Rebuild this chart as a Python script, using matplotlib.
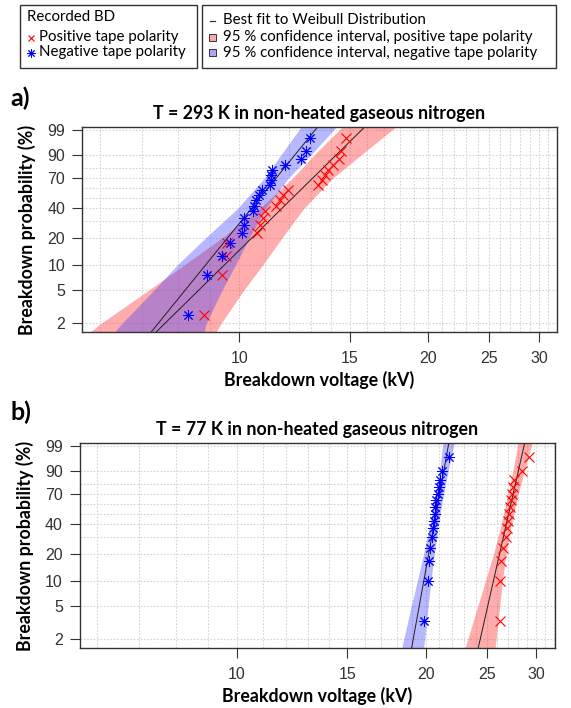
import numpy as np
import matplotlib

matplotlib.use("Agg")
import matplotlib.pyplot as plt
from matplotlib.lines import Line2D
from matplotlib.patches import Rectangle

plt.rcParams["font.family"] = ["Lato", "DejaVu Sans"]

W, H = 571, 708

# ---- data ----------------------------------------------------------------
# plotting positions (%) for n = 20 (panel a) and n = 15 (panel b)
prob_a = [2.5, 7.5, 12.5, 17.5, 22.5, 27.5, 32.5, 37.5, 42.5, 47.5,
          52.5, 57.5, 62.5, 67.5, 72.5, 77.5, 82.5, 87.5, 92.5, 97.5]
prob_b = [3.33, 10.0, 16.67, 23.33, 30.0, 36.67, 43.33, 50.0,
          56.67, 63.33, 70.0, 76.67, 83.33, 90.0, 96.67]

# breakdown voltages (kV), sorted
pos_a = [8.78, 9.39, 9.52, 9.56, 10.66, 10.78, 10.91, 10.98, 11.46, 11.60,
         11.74, 11.96, 13.35, 13.52, 13.68, 13.85, 14.11, 14.40, 14.54, 14.78]
neg_a = [8.29, 8.90, 9.38, 9.66, 10.09, 10.18, 10.18, 10.52, 10.57, 10.62,
         10.74, 10.86, 11.20, 11.25, 11.25, 11.29, 11.82, 12.56, 12.79, 12.95]
pos_b = [26.21, 26.21, 26.31, 26.50, 26.79, 26.93, 27.06, 27.16, 27.26, 27.36,
         27.46, 27.56, 27.59, 28.45, 29.15]
neg_b = [19.84, 20.16, 20.20, 20.33, 20.46, 20.53, 20.58, 20.65, 20.71, 20.78,
         20.88, 21.01, 21.10, 21.20, 21.80]

# Weibull fits (scale eta kV, shape beta)
fit_pos_a = (12.78, 7.55)
fit_neg_a = (11.23, 9.46)
fit_pos_b = (27.39, 33.9)
fit_neg_b = (20.94, 42.3)

# 95 % confidence bands: lower / upper voltage at given probability levels
band_p = [1.5, 2, 5, 10, 20, 40, 70, 90, 99.5]
band_pos_a_lo = [5.75, 6.03, 7.18, 8.19, 9.39, 10.78, 12.17, 13.16, 14.67]
band_pos_a_hi = [9.16, 9.36, 10.17, 10.91, 11.70, 12.67, 14.10, 15.63, 17.88]
band_neg_a_lo = [6.30, 6.51, 7.32, 7.98, 8.84, 9.94, 10.97, 11.65, 12.60]
band_neg_a_hi = [8.78, 8.86, 9.39, 9.87, 10.38, 11.01, 11.98, 13.00, 14.35]
band_pos_b_lo = [23.03, 23.32, 24.19, 24.89, 25.63, 26.36, 27.04, 27.51, 28.09]
band_pos_b_hi = [25.76, 25.88, 26.22, 26.49, 26.83, 27.35, 28.05, 28.70, 29.57]
band_neg_b_lo = [18.29, 18.44, 18.96, 19.39, 19.84, 20.31, 20.72, 21.04, 21.31]
band_neg_b_hi = [19.82, 19.92, 20.17, 20.38, 20.62, 20.95, 21.34, 21.71, 22.22]

xticks = [10, 15, 20, 25, 30]
yticks = [2, 5, 10, 20, 40, 70, 90, 99]
ygrid = [2, 5, 10, 20, 30, 40, 50, 60, 70, 80, 90, 99]
xgrid = list(range(6, 33))

RED = "#ff0000"
BLUE = "#0000ff"
RED_BAND = "#ff3a3a"
BLUE_BAND = "#3a3aff"
ASTER = (8, 2, 0)


def wb_fwd(p):
    p = np.clip(np.asarray(p, dtype=float), 1e-6, 99.9999) / 100.0
    return np.log(-np.log(1 - p))


def wb_inv(w):
    return 100.0 * (1 - np.exp(-np.exp(np.asarray(w, dtype=float))))


def fx(px):
    return px / W


def fy(py):
    return 1 - py / H


def panel(rect, title, label, ly, pos, neg, prob, fit_pos, fit_neg, bands):
    ax = fig.add_axes(rect)
    ax.set_xscale("log")
    ax.set_yscale("function", functions=(wb_fwd, wb_inv))
    ax.set_xlim(5.62, 32.05)
    ax.set_ylim(1.564, 99.36)

    for v in xgrid:
        ax.axvline(v, color="#d4d4d4", lw=0.8, ls=(0, (1.5, 1.5)), zorder=0)
    for p in ygrid:
        ax.axhline(p, color="#d4d4d4", lw=0.8, ls=(0, (1.5, 1.5)), zorder=0)

    (plo, phi), (nlo, nhi) = bands
    ax.fill_betweenx(band_p, plo, phi, color=RED_BAND, alpha=0.42, lw=0, zorder=1)
    ax.fill_betweenx(band_p, nlo, nhi, color=BLUE_BAND, alpha=0.36, lw=0, zorder=1)

    pe = np.array([1.0, 99.95])
    for eta, beta in (fit_pos, fit_neg):
        v = eta * (-np.log(1 - pe / 100)) ** (1 / beta)
        ax.plot(v, pe, color="#202020", lw=0.7, zorder=2)

    ax.plot(pos, prob, ls="none", marker="x", ms=6.5, mew=0.8, color=RED, zorder=3)
    ax.plot(neg, prob, ls="none", marker=ASTER, ms=8, mew=0.7, color=BLUE, zorder=3)

    ax.set_xticks(xticks)
    ax.set_xticklabels([str(t) for t in xticks])
    ax.xaxis.set_minor_locator(matplotlib.ticker.NullLocator())
    ax.set_yticks(yticks)
    ax.set_yticklabels([str(t) for t in yticks])
    ax.yaxis.set_minor_locator(matplotlib.ticker.NullLocator())
    ax.tick_params(axis="both", direction="out", length=7, width=0.8,
                   color="#333333", labelcolor="#333333", labelsize=11.5,
                   labelfontfamily="Liberation Sans")
    ax.tick_params(axis="x", pad=7)
    ax.tick_params(axis="y", pad=5)
    for s in ax.spines.values():
        s.set_color("#333333")
        s.set_linewidth(1.0)

    ax.set_title(title, fontsize=12.8, fontweight="bold", pad=6)
    ax.set_xlabel("Breakdown voltage (kV)", fontsize=12.8, fontweight="bold", labelpad=3)
    ax.set_ylabel("Breakdown probability (%)", fontsize=12.8, fontweight="bold", labelpad=8)
    fig.text(fx(10), fy(ly), label, fontsize=18, fontweight="bold", va="center")
    return ax


fig = plt.figure(figsize=(W / 100, H / 100), dpi=100)

panel([fx(82), fy(332), fx(557) - fx(82), fy(127) - fy(332)],
      "T = 293 K in non-heated gaseous nitrogen", "a)", 98,
      pos_a, neg_a, prob_a, fit_pos_a, fit_neg_a,
      ((band_pos_a_lo, band_pos_a_hi), (band_neg_a_lo, band_neg_a_hi)))
panel([fx(79.5), fy(648), fx(554.5) - fx(79.5), fy(443) - fy(648)],
      "T = 77 K in non-heated gaseous nitrogen", "b)", 412,
      pos_b, neg_b, prob_b, fit_pos_b, fit_neg_b,
      ((band_pos_b_lo, band_pos_b_hi), (band_neg_b_lo, band_neg_b_hi)))

# ---- legends (two boxes at the top) --------------------------------------
for x0, x1 in ((20, 197), (202, 556)):
    fig.add_artist(Rectangle((fx(x0), fy(68)), fx(x1) - fx(x0), fy(5) - fy(68),
                             transform=fig.transFigure, fill=False,
                             ec="#333333", lw=1.0))

lfs = 10.8
fig.text(fx(27), fy(17), "Recorded BD", fontsize=lfs, va="center")
fig.add_artist(Line2D([fx(31)], [fy(38)], transform=fig.transFigure, ls="none",
                      marker="x", ms=5, mew=0.8, color=RED))
fig.text(fx(39), fy(37.5), "Positive tape polarity", fontsize=lfs, va="center")
fig.add_artist(Line2D([fx(31)], [fy(52.5)], transform=fig.transFigure, ls="none",
                      marker=ASTER, ms=6, mew=0.7, color=BLUE))
fig.text(fx(39), fy(52), "Negative tape polarity", fontsize=lfs, va="center")

fig.add_artist(Line2D([fx(210), fx(215)], [fy(21), fy(21)], transform=fig.transFigure,
                      color="#333333", lw=0.9))
fig.text(fx(223), fy(20.5), "Best fit to Weibull Distribution", fontsize=lfs, va="center")
for yy, col, txt in ((38, RED_BAND, "positive"), (53, BLUE_BAND, "negative")):
    fig.add_artist(Rectangle((fx(209), fy(yy + 3)), fx(7) - fx(0), fy(0) - fy(7),
                             transform=fig.transFigure, fc=col, alpha=0.45,
                             ec="none"))
    fig.add_artist(Rectangle((fx(209), fy(yy + 3)), fx(7) - fx(0), fy(0) - fy(7),
                             transform=fig.transFigure, fill=False,
                             ec="#333333", lw=0.7))
    fig.text(fx(223), fy(yy - 0.5), f"95 % confidence interval, {txt} tape polarity",
             fontsize=lfs, va="center")

fig.savefig("out.png", dpi=100)
